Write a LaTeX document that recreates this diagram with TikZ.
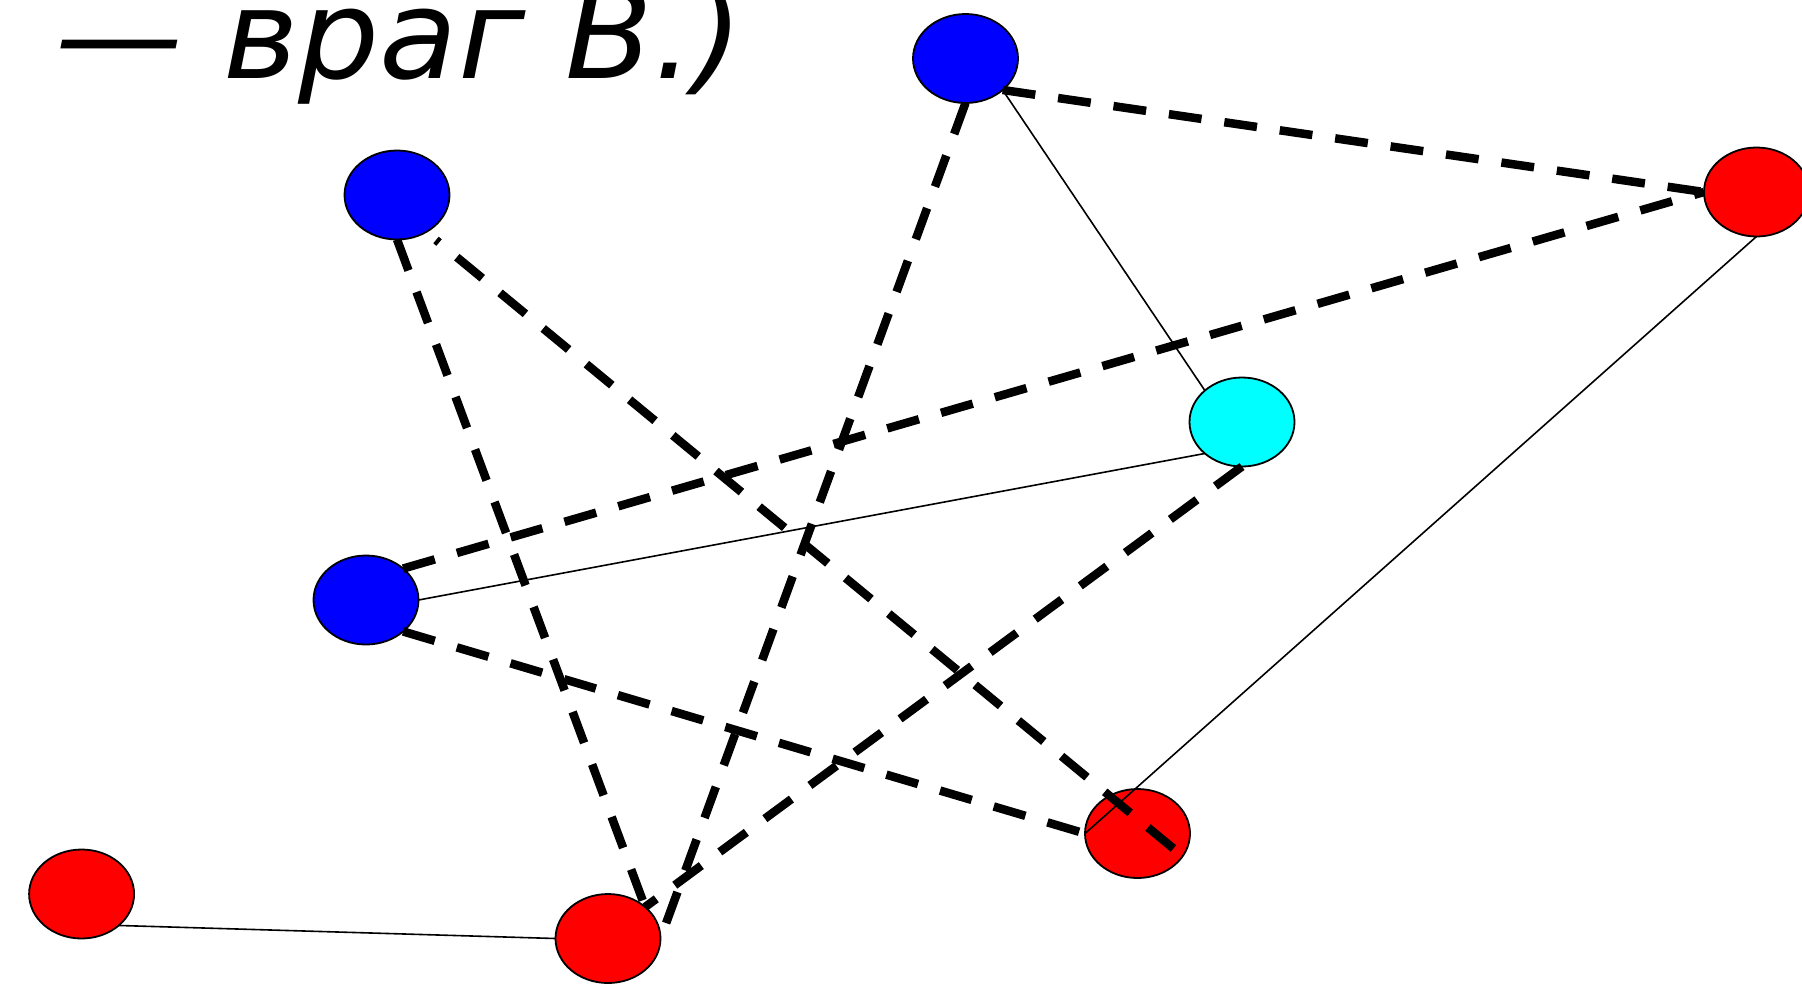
\documentclass[tikz,border=0pt]{standalone}
\usepackage{fontspec}
\setmainfont{DejaVu Sans}
\newfontfamily\titlefont[FakeStretch=1.03]{DejaVu Sans}
\usetikzlibrary{shapes.geometric}
\definecolor{dotblue}{RGB}{0,0,255}
\definecolor{dotred}{RGB}{255,0,0}
\definecolor{dotcyan}{RGB}{0,255,255}
\tikzset{
  dot/.style={ellipse, draw=black, line width=1.8pt, minimum width=105pt, minimum height=89pt, inner sep=0pt, outer sep=0pt},
  thinline/.style={line width=1.6pt},
  dashline/.style={line width=8.5pt, dash pattern=on 33pt off 23pt},
}
\begin{document}
\begin{tikzpicture}[x=1pt,y=-1pt]
\useasboundingbox (0,0) rectangle (1802,989);
\node[anchor=base west, inner sep=0pt, font=\titlefont\fontsize{124}{124}\selectfont\itshape] (title) at (55,78) {— враг В.)};
\node[dot, fill=dotblue] (n1) at (965.5,58.5) {};
\node[dot, fill=dotblue] (n2) at (397,195) {};
\node[dot, fill=dotred] (n3) at (1756.5,192) {};
\node[dot, fill=dotcyan] (n4) at (1242,422) {};
\node[dot, fill=dotblue] (n5) at (366,600) {};
\node[dot, fill=dotred] (n6) at (1137.5,833.5) {};
\node[dot, fill=dotred] (n7) at (81.6,894) {};
\node[dot, fill=dotred] (n8) at (608,938.5) {};
\coordinate (s2) at (436,240);
\coordinate (e2) at (1174,849);
% solid
\draw[thinline] (n1.south east) -- (n4.north west);
\draw[thinline] (n4.south west) -- (n5.east);
\draw[thinline] (n3.south) -- (n6.west);
\draw[thinline] (n7.south east) -- (n8.west);
% dashed
\draw[dashline] (n1.south east) -- (n3.west);
\draw[dashline] (n5.north east) -- (n3.west);
\draw[dashline] (n1.south) -- (n8.east);
\draw[dashline] (n2.south) -- (n8.north east);
\draw[dashline, dash phase=29pt] (s2) -- (e2);
\draw[dashline] (n4.south) -- (n8.north east);
\draw[dashline] (n5.south east) -- (n6.west);
\end{tikzpicture}
\end{document}
